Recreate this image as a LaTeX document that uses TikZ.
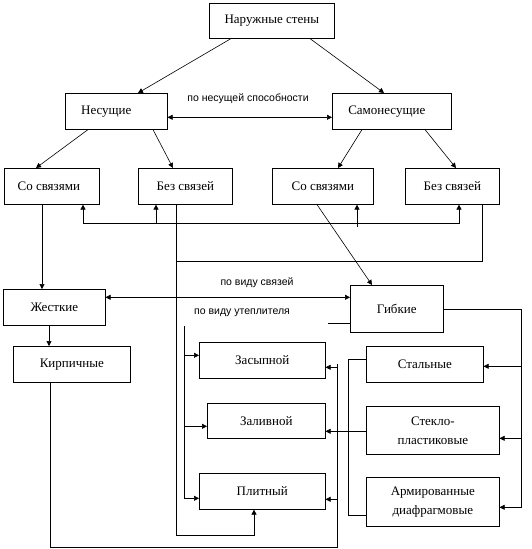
\documentclass[tikz,border=0pt]{standalone}
\usepackage{fontspec}
\setmainfont{Liberation Serif}
\setsansfont{Liberation Sans}
\newfontfamily\boxfont{Liberation Serif}
\usetikzlibrary{arrows.meta}

\tikzset{
  box/.style={draw, inner sep=1pt, anchor=north west, align=center, font=\boxfont\fontsize{13}{19}\selectfont},
  lbl/.style={font=\sffamily\fontsize{10.5}{12}\selectfont},
  arr/.style={-{Triangle[length=5pt,width=5pt]}},
  darr/.style={{Triangle[length=5pt,width=5pt]}-{Triangle[length=5pt,width=5pt]}}
}

\begin{document}
\begin{tikzpicture}[x=1pt, y=-1pt, line width=0.6pt]
    \useasboundingbox (0,0) rectangle (532,549);

    % boxes
    \node[box, minimum width=125pt, minimum height=35pt] (nar) at (209,3) {Наружные стены};
    \node[box, minimum width=102pt, minimum height=36pt] (nes) at (65,93) {Несущие\hspace*{20pt}};
    \node[box, minimum width=119pt, minimum height=36pt] (samo) at (332,93) {Самонесущие\hspace*{10pt}};
    \node[box, minimum width=95pt, minimum height=36pt] (sv1) at (4,168) {Со связями\hspace*{6pt}};
    \node[box, minimum width=94pt, minimum height=36pt] (bez1) at (138,168) {Без связей};
    \node[box, minimum width=101pt, minimum height=36pt] (sv2) at (272,168) {Со связями};
    \node[box, minimum width=94pt, minimum height=36pt] (bez2) at (405,168) {Без связей};
    \node[box, minimum width=102pt, minimum height=36pt] (zhest) at (3,289) {Жесткие};
    \node[box, minimum width=93pt, minimum height=47pt] (gib) at (350,285) {Гибкие};
    \node[box, minimum width=117pt, minimum height=36pt] (kirp) at (13,346) {Кирпичные};
    \node[box, minimum width=126pt, minimum height=36pt] (zas) at (199,342) {Засыпной};
    \node[box, minimum width=118pt, minimum height=35pt] (zal) at (207,403) {Заливной};
    \node[box, minimum width=126pt, minimum height=36pt] (plit) at (199,473) {Плитный};
    \node[box, minimum width=117pt, minimum height=36pt] (stal) at (366,346) {Стальные};
    \node[box, minimum width=133pt, minimum height=48pt] (steklo) at (366,406) {Стекло-\\пластиковые};
    \node[box, minimum width=133pt, minimum height=49pt] (arm) at (366,477) {Армированные\\диафрагмовые};

    % labels
    \node[lbl] (lcap) at (248,99) {по несущей способности};
    \node[lbl] (lsv) at (257,283) {по виду связей};
    \node[lbl] (lut) at (242,313) {по виду утеплителя};

    % top levels
    \draw[arr] ([xshift=22]nar.south west) -- ([xshift=73]nes.north west);
    \draw[arr] ([xshift=101]nar.south west) -- ([xshift=52]samo.north west);
    \draw[darr] ([yshift=-6]nes.east) -- ([yshift=-6]samo.west);
    \draw[arr] ([xshift=23]nes.south west) -- ([xshift=32]sv1.north west);
    \draw[arr] ([xshift=88]nes.south west) -- ([xshift=35]bez1.north west);
    \draw[arr] ([xshift=30]samo.south west) -- ([xshift=66]sv2.north west);
    \draw[arr] ([xshift=93]samo.south west) -- ([xshift=51]bez2.north west);

    % bus under the second row
    \coordinate (s1) at ([xshift=79]sv1.south west);
    \coordinate (b1) at ([xshift=18]bez1.south west);
    \coordinate (s2) at ([xshift=85]sv2.south west);
    \coordinate (b2) at ([xshift=54]bez2.south west);
    \coordinate (busL) at ([yshift=-19]s1);
    \draw[arr] (busL) -- (s1);
    \draw (busL) -- (busL -| b2);
    \draw[arr] (busL -| b2) -- (b2);
    \draw[arr] (busL -| b1) -- (b1);
    \draw[arr] (busL -| s2) ++(0,3) -- (s2);

    % Без связей
    \coordinate (b1d) at ([xshift=38]bez1.south west);
    \coordinate (b2d) at ([xshift=77]bez2.south west);
    \coordinate (pl) at ([xshift=55]plit.south west);
    \draw[arr] (b1d) |- ([yshift=-26]pl) -- (pl);
    \draw ([yshift=-57]b1d) -| (b2d);

    % Со связями
    \coordinate (s1d) at ([xshift=38]sv1.south west);
    \draw[arr] (s1d) -- (s1d |- zhest.north);
    \draw[arr] ([xshift=45]sv2.south west) -- ([xshift=22]gib.north west);

    % Жесткие -- Гибкие
    \coordinate (zh) at ([yshift=10]zhest.east);
    \draw[darr] (zh) -- (zh -| gib.west);
    \coordinate (zhd) at ([xshift=46]zhest.south west);
    \draw[arr] (zhd) -- (zhd |- kirp.north);

    % Кирпичные loop
    \coordinate (k1) at ([xshift=37]kirp.south west);
    \draw (k1) |- ([xshift=12,yshift=-38]plit.south east) -- ([xshift=12,yshift=-4]zas.east);
    \draw[arr] ([xshift=12,yshift=-7]zas.east) -- ([yshift=-7]zas.east);
    \draw[arr] ([xshift=12,yshift=-8]plit.east) -- ([yshift=-8]plit.east);

    % по виду утеплителя
    \coordinate (gst) at ([yshift=-14.5]gib.west);
    \draw (gst) -- ++(-22,0);
    \coordinate (lv) at (184,326);
    \coordinate (za) at ([yshift=5]zas.west);
    \coordinate (zl) at ([yshift=-5.5]zal.west);
    \coordinate (pw) at ([yshift=-7]plit.west);
    \draw[arr] (lv) |- (pw);
    \draw[arr] (lv |- za) -- (za);
    \draw[arr] (lv |- zl) -- (zl);

    % Гибкие branches
    \coordinate (rv) at ([xshift=78]gib.east);
    \coordinate (se) at ([yshift=-2]stal.east);
    \coordinate (te) at ([yshift=-8]steklo.east);
    \coordinate (ae) at ([yshift=-5.5]arm.east);
    \draw[arr] (gib.east) -| (rv |- ae) -- (ae);
    \draw[arr] (rv |- se) -- (se);
    \draw[arr] (rv |- te) -- (te);

    % left side of the right group
    \coordinate (sl) at ([yshift=5]stal.west);
    \coordinate (al) at ([yshift=-13.5]arm.west);
    \coordinate (tl) at ([yshift=-1]steklo.west);
    \draw (sl) -- ++(-18,0) |- (al);
    \draw[arr] (tl) -- (tl -| zal.east);
\end{tikzpicture}
\end{document}
